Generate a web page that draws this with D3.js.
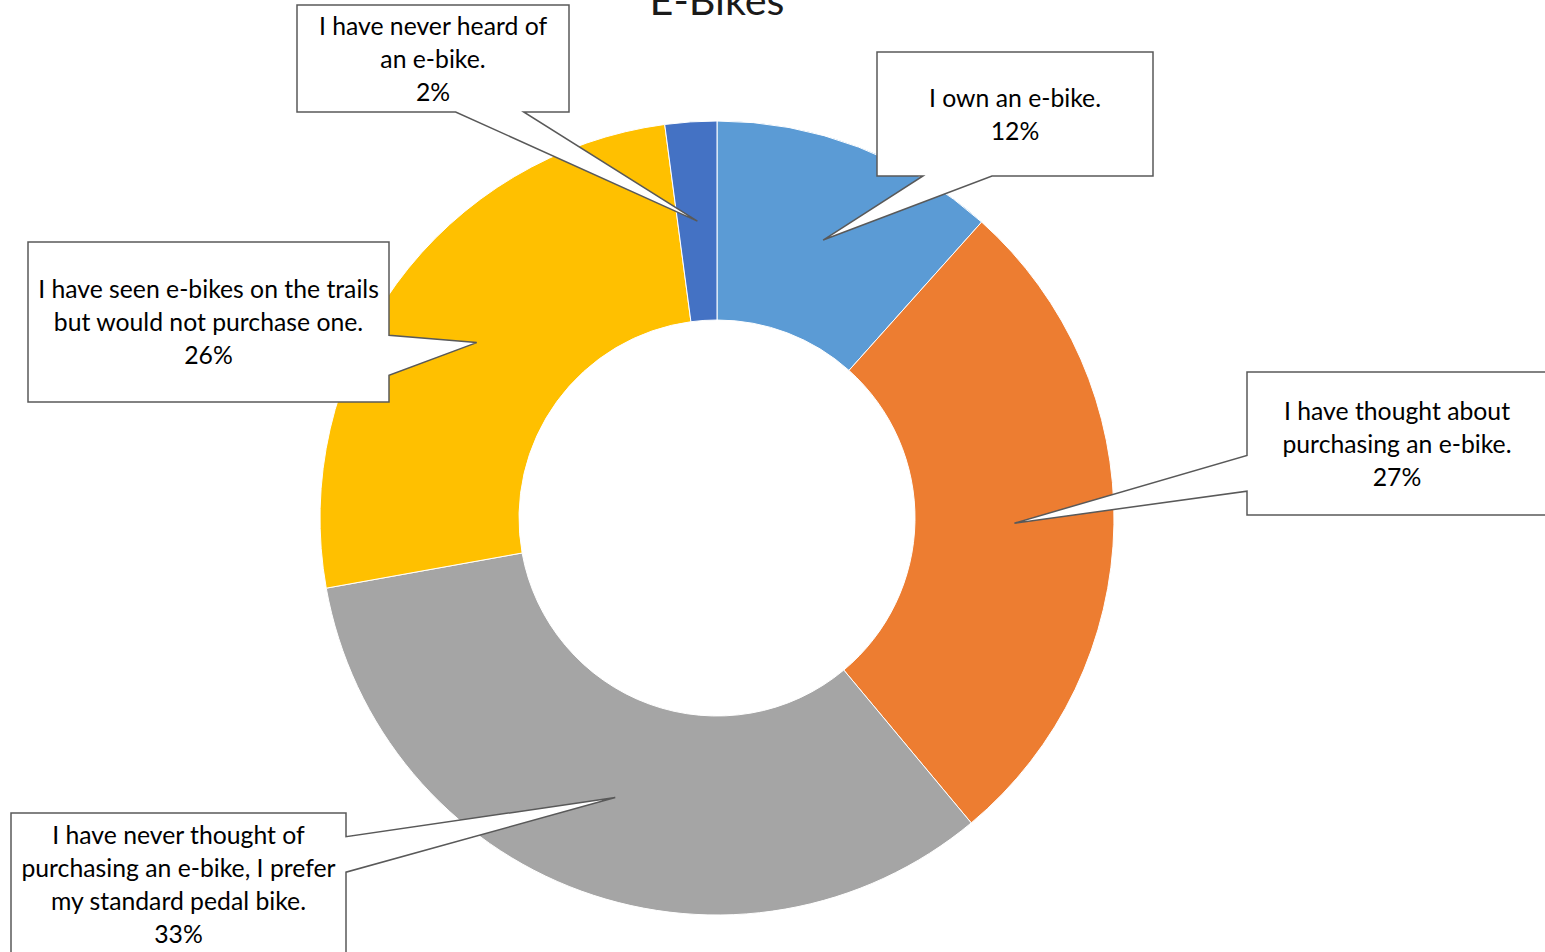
<!DOCTYPE html>
<html>
<head>
<meta charset="utf-8">
<script src="https://cdn.jsdelivr.net/npm/d3@7"></script>
<style>
  html, body { margin: 0; padding: 0; background: #fff; overflow: hidden; }
  svg { display: block; }
  text { font-family: Lato, "Noto Sans", sans-serif; fill: #000; }
</style>
</head>
<body>
<svg id="chart" width="1545" height="952"></svg>
<script>
// ---- data ----
const title = "E-Bikes";
const categories = [
  ["I own an e-bike."],
  ["I have thought about", "purchasing an e-bike."],
  ["I have never thought of", "purchasing an e-bike, I prefer", "my standard pedal bike."],
  ["I have seen e-bikes on the trails", "but would not purchase one."],
  ["I have never heard of", "an e-bike."]
];
const values = [11.6, 27.3, 33.2, 25.7, 2.1];
const colors = ["#5B9BD5", "#ED7D31", "#A5A5A5", "#FFC000", "#4472C4"];

// ---- layout (callout boxes) ----
const boxes = [
  {x: 877, y: 52,  w: 276, h: 124},
  {x: 1247, y: 372, w: 300, h: 143},
  {x: 11,  y: 813, w: 335, h: 142},
  {x: 28,  y: 242, w: 361, h: 160},
  {x: 297, y: 5,   w: 272, h: 107}
];

const svg = d3.select("#chart");
const cx = 717, cy = 518, rOuter = 397, rInner = 198;
const lineH = 33;

// title with width-fitted font size
const titleEl = svg.append("text")
  .attr("x", cx).attr("y", 15)
  .attr("text-anchor", "middle")
  .style("font-size", "40px")
  .style("fill", "#1a1a1a")
  .text(title);
const tw = titleEl.node().getComputedTextLength();
titleEl.style("font-size", (40 * 135 / tw) + "px");

const g = svg.append("g").attr("transform", `translate(${cx},${cy})`);
const pie = d3.pie().sort(null).value(d => d).startAngle(0).endAngle(2 * Math.PI);
const arcs = pie(values);
const arc = d3.arc().innerRadius(rInner).outerRadius(rOuter);

g.selectAll("path.slice").data(arcs).enter().append("path")
  .attr("class", "slice")
  .attr("d", arc)
  .attr("fill", (d, i) => colors[i])
  .attr("stroke", "#fff")
  .attr("stroke-width", 1);

const total = d3.sum(values);

// measure font size for labels
const probe = svg.append("text").style("font-size", "26px").text("I have seen e-bikes on the trails");
const pw = probe.node().getComputedTextLength();
probe.remove();
const labelSize = 26 * 341 / pw;

function calloutPath(b, tip) {
  const x0 = b.x, y0 = b.y, x1 = b.x + b.w, y1 = b.y + b.h;
  const mx = b.x + b.w / 2, my = b.y + b.h / 2;
  const dx = (tip[0] - mx) / b.w, dy = (tip[1] - my) / b.h;
  const p = d3.path();
  const inside = tip[0] >= x0 && tip[0] <= x1 && tip[1] >= y0 && tip[1] <= y1;
  p.moveTo(x0, y0);
  if (!inside && Math.abs(dy) >= Math.abs(dx) && dy < 0) {
    const a = dx < 0 ? [2, 5] : [7, 10];
    p.lineTo(x0 + b.w * a[0] / 12, y0); p.lineTo(tip[0], tip[1]); p.lineTo(x0 + b.w * a[1] / 12, y0);
  }
  p.lineTo(x1, y0);
  if (!inside && Math.abs(dx) > Math.abs(dy) && dx > 0) {
    const a = dy < 0 ? [2, 5] : [7, 10];
    p.lineTo(x1, y0 + b.h * a[0] / 12); p.lineTo(tip[0], tip[1]); p.lineTo(x1, y0 + b.h * a[1] / 12);
  }
  p.lineTo(x1, y1);
  if (!inside && Math.abs(dy) >= Math.abs(dx) && dy > 0) {
    const a = dx < 0 ? [2, 5] : [7, 10];
    p.lineTo(x0 + b.w * a[1] / 12, y1); p.lineTo(tip[0], tip[1]); p.lineTo(x0 + b.w * a[0] / 12, y1);
  }
  p.lineTo(x0, y1);
  if (!inside && Math.abs(dx) > Math.abs(dy) && dx < 0) {
    const a = dy < 0 ? [2, 5] : [7, 10];
    p.lineTo(x0, y0 + b.h * a[1] / 12); p.lineTo(tip[0], tip[1]); p.lineTo(x0, y0 + b.h * a[0] / 12);
  }
  p.closePath();
  return p.toString();
}

const labels = svg.append("g");
arcs.forEach((d, i) => {
  const c = arc.centroid(d);
  const tip = [cx + c[0], cy + c[1]];
  const b = boxes[i];
  labels.append("path")
    .attr("d", calloutPath(b, tip))
    .attr("fill", "#fff")
    .attr("stroke", "#595959")
    .attr("stroke-width", 1.5)
    .attr("stroke-linejoin", "miter");
  const lines = categories[i].concat([Math.round(d.value / total * 100) + "%"]);
  const n = lines.length;
  const midY = b.y + b.h / 2 + 1;
  const t = labels.append("text")
    .attr("text-anchor", "middle")
    .style("font-size", labelSize + "px");
  lines.forEach((ln, k) => {
    t.append("tspan")
      .attr("x", b.x + b.w / 2)
      .attr("y", midY + (k - (n - 1) / 2) * lineH + 8)
      .text(ln);
  });
});
</script>
</body>
</html>
